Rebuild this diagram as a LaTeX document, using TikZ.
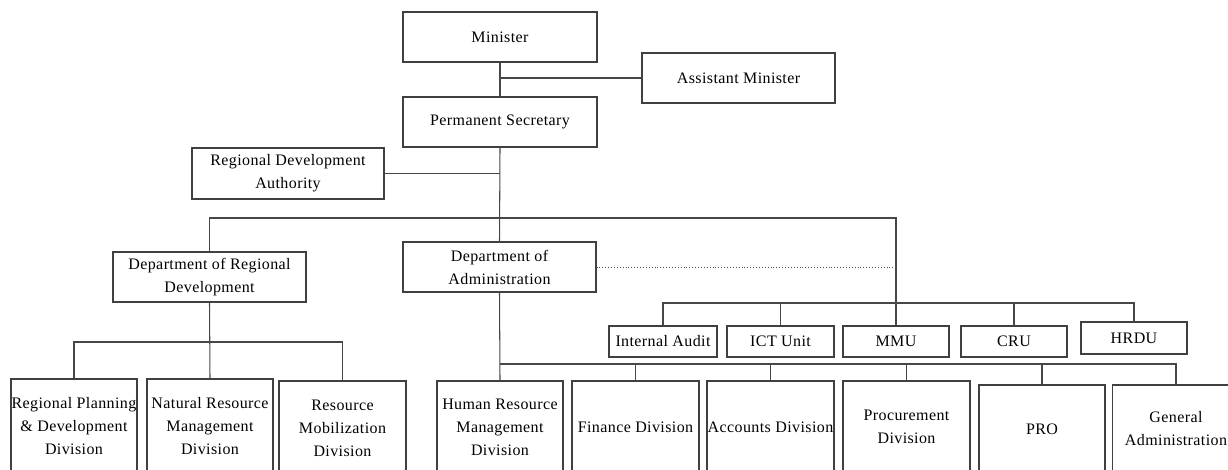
\documentclass[tikz,border=0pt]{standalone}
\usepackage{fontspec}
\setmainfont{Liberation Serif}[LetterSpace=2.5]
\newcommand\boxfont{\fontsize{16}{23}\selectfont}
\begin{document}
\begin{tikzpicture}[x=1pt,y=-1pt,
  box/.style={draw=black!75, line width=1.15pt, fill=white, inner sep=0pt, align=center, font=\boxfont},
  conn/.style={draw=black!72, line width=1.05pt},
  dotline/.style={draw=black!70, line width=0.9pt, dotted}]
\useasboundingbox (0,0) rectangle (1228,470);
\clip (0,0) rectangle (1228,470);
% top
\node[box, minimum width=194pt, minimum height=50pt] (min) at (500,37) {Minister};
\node[box, minimum width=193pt, minimum height=50pt] (am) at (738.5,78) {Assistant Minister};
\node[box, minimum width=194pt, minimum height=50pt] (ps) at (500,122) {Permanent Secretary};
\node[box, minimum width=192pt, minimum height=51pt] (rda) at (288,173.5) {Regional Development\\Authority};
\node[box, minimum width=193pt, minimum height=50pt] (drd) at (209.5,277) {Department of Regional\\Development};
\node[box, minimum width=193pt, minimum height=50pt] (da) at (499.5,267) {Department of\\Administration};
% units
\node[box, minimum width=108pt, minimum height=31pt] (ia) at (663,341.5) {Internal Audit};
\node[box, minimum width=107pt, minimum height=31pt] (ict) at (780.5,341.5) {ICT Unit};
\node[box, minimum width=106pt, minimum height=31pt] (mmu) at (896,341.5) {MMU};
\node[box, minimum width=106pt, minimum height=31pt] (cru) at (1014,341.5) {CRU};
\node[box, minimum width=106pt, minimum height=32pt] (hrdu) at (1134,338) {HRDU};
% regional divisions
\node[box, minimum width=126pt, minimum height=94pt] (rpd) at (74,426) {Regional Planning\\\& Development\\Division};
\node[box, minimum width=126pt, minimum height=94pt] (nrm) at (210,426) {Natural Resource\\Management\\Division};
\node[box, minimum width=127pt, minimum height=94pt] (rmd) at (342.5,428) {Resource\\Mobilization\\Division};
% admin divisions
\node[box, minimum width=126pt, minimum height=92pt] (hrm) at (500,427) {Human Resource\\Management\\Division};
\node[box, minimum width=127pt, minimum height=92pt] (fin) at (635.5,427) {Finance Division};
\node[box, minimum width=127pt, minimum height=92pt] (acc) at (770.5,427) {Accounts Division};
\node[box, minimum width=127pt, minimum height=92pt] (proc) at (906.5,427) {Procurement\\Division};
\node[box, minimum width=126pt, minimum height=88pt] (pro) at (1042,429) {PRO};
\node[box, minimum width=127pt, minimum height=88pt] (ga) at (1176,429) {General\\Administration};
% bus coordinates
\coordinate (topbus) at (896,218);
\coordinate (unitbus) at (0,303);
\coordinate (admbus) at (0,364);
\coordinate (regbus) at (0,342);
\coordinate (dotend) at (896,266);
% connectors
\draw[conn] (min.south) -- (ps.north);
\draw[conn] (am.west) -- (am.west -| min.south);
\draw[conn] (rda.east) -- (rda.east -| ps.south);
\draw[conn] (ps.south) -- (da.north);
\draw[conn] (drd.north) |- (topbus) -- (mmu.north);
\draw[dotline] (da.east) -- (da.east -| dotend);
\draw[conn] (ia.north) |- (hrdu.north |- unitbus) -- (hrdu.north);
\draw[conn] (ict.north) -- (ict.north |- unitbus);
\draw[conn] (cru.north) -- (cru.north |- unitbus);
\draw[conn] (drd.south) -- (nrm.north);
\draw[conn] (rpd.north) |- (rmd.north |- regbus) -- (rmd.north);
\draw[conn] (da.south) -- (hrm.north);
\draw[conn] (hrm.north |- admbus) -| (ga.north);
\draw[conn] (fin.north) -- (fin.north |- admbus);
\draw[conn] (acc.north) -- (acc.north |- admbus);
\draw[conn] (proc.north) -- (proc.north |- admbus);
\draw[conn] (pro.north) -- (pro.north |- admbus);
\end{tikzpicture}
\end{document}
